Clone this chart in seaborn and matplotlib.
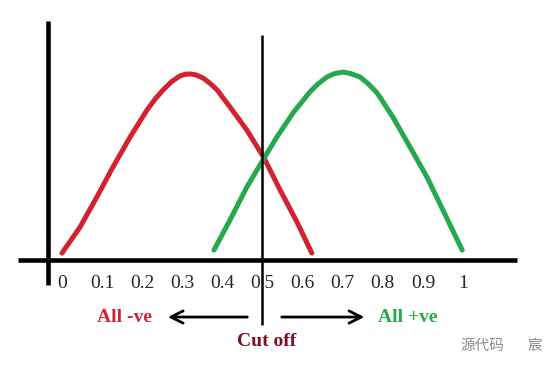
import numpy as np
import pandas as pd
import matplotlib.pyplot as plt
import seaborn as sns

### DATA ###

# red curve (all negatives)
neg_x = [0.0, 0.045, 0.087, 0.127, 0.170, 0.212, 0.232, 0.252, 0.274, 0.294,
         0.307, 0.319, 0.334, 0.352, 0.369, 0.387, 0.419, 0.461, 0.504, 0.544,
         0.586, 0.623]
neg_y = [0.037, 0.176, 0.337, 0.497, 0.658, 0.802, 0.860, 0.909, 0.955, 0.984,
         0.993, 0.995, 0.990, 0.973, 0.945, 0.909, 0.818, 0.695, 0.545, 0.374,
         0.203, 0.037]

# green curve (all positives)
pos_x = [0.379, 0.419, 0.461, 0.504, 0.536, 0.576, 0.618, 0.638, 0.661, 0.680,
         0.701, 0.718, 0.743, 0.763, 0.786, 0.825, 0.868, 0.910, 0.950, 0.998]
pos_y = [0.053, 0.214, 0.390, 0.545, 0.658, 0.786, 0.898, 0.941, 0.979, 0.997,
         1.005, 0.998, 0.979, 0.944, 0.893, 0.765, 0.604, 0.444, 0.267, 0.053]

tick_values = [0, 0.1, 0.2, 0.3, 0.4, 0.5, 0.6, 0.7, 0.8, 0.9, 1]
tick_labels = ['0', '0.1', '0.2', '0.3', '0.4', '0.5', '0.6', '0.7', '0.8', '0.9', '1']

cutoff = 0.5

red = '#d3222f'
green = '#26a84c'
maroon = '#7a1020'

### PLOT ###

sns.set_style('white')

fig = plt.figure(figsize=(5.5, 3.65), dpi=100)
ax = fig.add_axes([0, 0, 1, 1])
ax.set_xlim(-0.1546, 1.2170)
ax.set_ylim(-0.5615, 1.3904)
ax.axis('off')

neg_df = pd.DataFrame({'x': neg_x, 'y': neg_y})
pos_df = pd.DataFrame({'x': pos_x, 'y': pos_y})

sns.lineplot(data=neg_df, x='x', y='y', ax=ax, color=red, lw=3.6,
             sort=False, solid_capstyle='round', solid_joinstyle='round')
sns.lineplot(data=pos_df, x='x', y='y', ax=ax, color=green, lw=3.6,
             sort=False, solid_capstyle='round', solid_joinstyle='round')

# hand drawn axes
ax.hlines(0, -0.11, 1.135, color='black', lw=3.3)
ax.vlines(-0.035, -0.134, 1.28, color='black', lw=3.3)

# cut off line
ax.vlines(cutoff, -0.348, 1.203, color='black', lw=1.8)

# tick labels
for v, lab in zip(tick_values, tick_labels):
    ax.text(v, -0.123, lab, ha='center', va='center',
            fontsize=14, family='Liberation Serif')

# arrows
ax.annotate('', xy=(0.257, -0.305), xytext=(0.469, -0.305),
            arrowprops=dict(arrowstyle='->', lw=2, color='black', mutation_scale=22))
ax.annotate('', xy=(0.761, -0.305), xytext=(0.541, -0.305),
            arrowprops=dict(arrowstyle='->', lw=2, color='black', mutation_scale=22))

ax.text(0.157, -0.310, 'All -ve', ha='center', va='center', color=red,
        fontsize=14, fontweight='bold', family='Liberation Serif')
ax.text(0.863, -0.310, 'All +ve', ha='center', va='center', color=green,
        fontsize=14, fontweight='bold', family='Liberation Serif')
ax.text(0.511, -0.435, 'Cut off', ha='center', va='center', color=maroon,
        fontsize=14, fontweight='bold', family='Liberation Serif')

# watermark
ax.text(0.993, -0.460, '源代码', ha='left', va='center', color='#8a8a8a',
        fontsize=10.5, family=['Noto Sans CJK SC', 'DejaVu Sans'])
ax.text(1.160, -0.460, '宸', ha='left', va='center', color='#8a8a8a',
        fontsize=10.5, family=['Noto Sans CJK SC', 'DejaVu Sans'])

plt.savefig('out.png', dpi=100)
